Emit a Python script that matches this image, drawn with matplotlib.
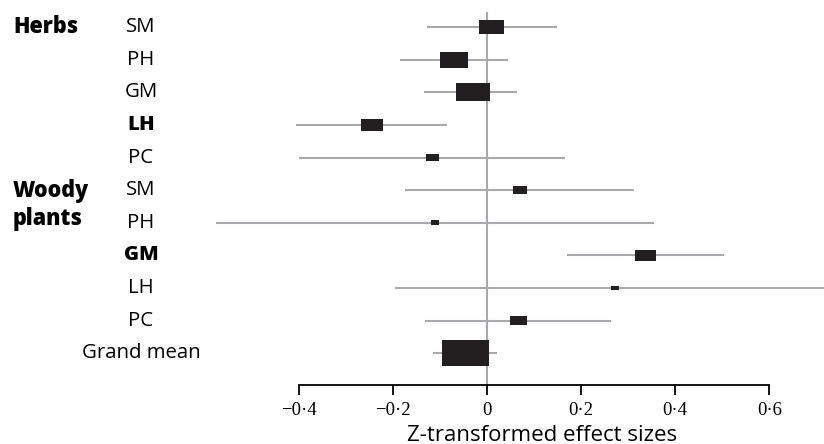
import numpy as np
import matplotlib
matplotlib.use('Agg')
import matplotlib.pyplot as plt
from matplotlib.patches import Rectangle
from matplotlib.transforms import blended_transform_factory

# forest plot data, top to bottom
labels = ['SM', 'PH', 'GM', 'LH', 'PC', 'SM', 'PH', 'GM', 'LH', 'PC', 'Grand mean']
bold_rows = [3, 7]
groups = ['Herbs', 'Woody\nplants']
group_rows = [0, 5.45]
effect = [0.010, -0.070, -0.030, -0.244, -0.116, 0.070, -0.110, 0.337, 0.272, 0.067, -0.046]
lower = [-0.128, -0.184, -0.133, -0.406, -0.399, -0.174, -0.576, 0.171, -0.196, -0.131, -0.115]
upper = [0.148, 0.044, 0.063, -0.084, 0.166, 0.313, 0.355, 0.503, 0.760, 0.264, 0.022]
weight = [0.052, 0.061, 0.071, 0.046, 0.026, 0.030, 0.018, 0.044, 0.018, 0.036, 0.101]
ticks = [-0.4, -0.2, 0, 0.2, 0.4, 0.6]
tick_labels = ['\u22120\u00b74', '\u22120\u00b72', '0', '0\u00b72', '0\u00b74', '0\u00b76']

sans = 'Open Sans'
serif = 'Liberation Serif'
box_col = '#231f20'
line_col = '#a7a9ac'

W, H = 824, 444
fig = plt.figure(figsize=(W / 100, H / 100), dpi=100)
# axes from pixel y=12 to y=385, full width
ax = fig.add_axes([0, (H - 385) / H, 1, (385 - 12) / H])
ax.set_xlim(-487 / 470.5, (W - 487) / 470.5)
row_px = 32.63
ax.set_ylim((385 - 27) / row_px, (12 - 27) / row_px)

ax.axvline(0, color=line_col, lw=1.5, zorder=1)

# keep box aspect (height ~0.55 of width in pixels)
aspect = 470.5 / row_px * 0.55
for i in range(len(labels)):
    ax.plot([lower[i], upper[i]], [i, i], color=line_col, lw=1.5, zorder=2, solid_capstyle='butt')
    w = weight[i]
    h = w * aspect
    ax.add_patch(Rectangle((effect[i] - w / 2, i - h / 2), w, h, color=box_col, zorder=3, lw=0))

for s in ['top', 'right', 'left']:
    ax.spines[s].set_visible(False)
ax.spines['bottom'].set_bounds(ticks[0], ticks[-1])
ax.spines['bottom'].set_linewidth(1.3)
ax.set_yticks([])
ax.set_xticks(ticks)
ax.set_xticklabels(tick_labels, fontfamily=serif, fontsize=13.5)
ax.tick_params(axis='x', direction='out', length=7.5, width=1.3, pad=4.5)

tr = blended_transform_factory(fig.transFigure, ax.transData)
for i, lab in enumerate(labels):
    fw = 'heavy' if i in bold_rows else 'normal'
    ax.text(141 / W, i, lab, transform=tr, ha='center', va='center',
            fontfamily=sans, fontsize=14.7, fontweight=fw)
for g, r in zip(groups, group_rows):
    ax.text(13 / W, r, g, transform=tr, ha='left', va='center',
            fontfamily=sans, fontsize=15.5, fontweight='heavy', linespacing=1.25)

fig.text(542 / W, 1 - 435 / H, 'Z-transformed effect sizes', ha='center', va='center',
         fontfamily=sans, fontsize=16)

fig.savefig('out.png', dpi=100)
